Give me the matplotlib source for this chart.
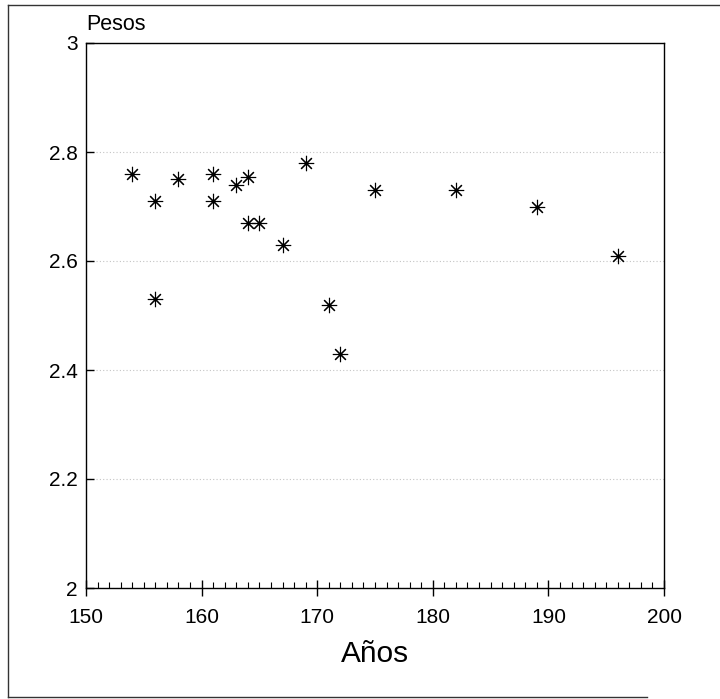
import matplotlib
matplotlib.use("Agg")
import matplotlib.pyplot as plt
from matplotlib.lines import Line2D
from matplotlib.ticker import MultipleLocator, FixedLocator

plt.rcParams['font.family'] = ['Liberation Sans', 'DejaVu Sans']

# Data
years = [154, 156, 156, 158, 161, 161, 163, 164, 164, 165, 167, 169, 171, 172, 175, 182, 189, 196]
pesos = [2.76, 2.71, 2.53, 2.75, 2.76, 2.71, 2.74, 2.755, 2.67, 2.67, 2.63, 2.78, 2.52, 2.43, 2.73, 2.73, 2.70, 2.61]

x_ticks = [150, 160, 170, 180, 190, 200]
y_ticks = [2.0, 2.2, 2.4, 2.6, 2.8, 3.0]
y_tick_labels = ["2", "2.2", "2.4", "2.6", "2.8", "3"]

fig = plt.figure(figsize=(7.2, 6.99), dpi=100)
ax = fig.add_axes([86/720, 1 - 588/699, (664 - 86)/720, (588 - 43)/699])

ax.plot(years, pesos, linestyle='none', marker=(8, 2, 0), markersize=11,
        markeredgewidth=0.8, color='black')

ax.set_xlim(150, 200)
ax.set_ylim(2, 3)
ax.xaxis.set_major_locator(FixedLocator(x_ticks))
ax.xaxis.set_minor_locator(MultipleLocator(1))
ax.set_yticks(y_ticks)
ax.set_yticklabels(y_tick_labels)

ax.tick_params(axis='x', which='major', direction='inout', length=11, width=1,
               labelsize=15, pad=9)
ax.tick_params(axis='x', which='minor', direction='in', length=4.5, width=0.8)
ax.tick_params(axis='y', which='major', direction='in', length=6, width=1,
               labelsize=15, pad=6)

for s in ax.spines.values():
    s.set_linewidth(1.0)
    s.set_color('black')

ax.grid(axis='y', which='major', linestyle=(0, (1, 2)), color='#c4c4c4', linewidth=0.8)
ax.set_axisbelow(True)

ax.set_xlabel('Años', fontsize=21.5)
ax.xaxis.set_label_coords(0.5, -(653.5 - 588) / 545)
ax.xaxis.label.set_verticalalignment('center')

ax.text(0.0, 1 + 13.5/545, 'Pesos', transform=ax.transAxes, ha='left',
        va='baseline', fontsize=15.5)

# Outer frame (open at right, as in the scanned page)
fw, fh = 720, 699
frame_kw = dict(color='#333333', linewidth=1.0, transform=fig.transFigure)
fig.add_artist(Line2D([8/fw, 1.0], [1 - 5/fh, 1 - 5/fh], **frame_kw))
fig.add_artist(Line2D([8/fw, 8/fw], [1 - 5/fh, 1 - 697/fh], **frame_kw))
fig.add_artist(Line2D([8/fw, 647/fw], [1 - 697/fh, 1 - 697/fh], **frame_kw))

fig.savefig('out.png', dpi=100)
